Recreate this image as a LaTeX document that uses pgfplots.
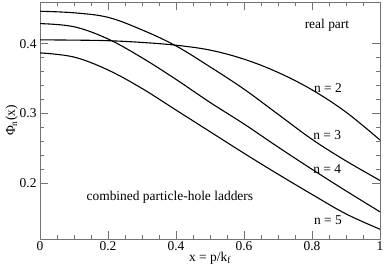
\documentclass[border=0pt]{standalone}
\usepackage{pgfplots}
\pgfplotsset{compat=1.18}
\usepackage{fontspec}
\setmainfont{Liberation Serif}
\tikzset{curve/.style={black, line width=1.1pt, smooth, tension=0.6, mark=none}}
\begin{document}
\begin{tikzpicture}
\begin{axis}[
  scale only axis,
  width=340bp, height=237bp,
  xmin=0, xmax=1, ymin=0.12, ymax=0.46,
  xtick={0,0.2,0.4,0.6,0.8,1},
  xticklabels={0,0.2,0.4,0.6,0.8,1},
  ytick={0.2,0.3,0.4},
  yticklabels={0.2,0.3,0.4},
  minor x tick num=3,
  minor y tick num=4,
  tick align=inside,
  major tick length=8bp,
  minor tick length=4bp,
  axis line style={draw=black!55, line width=1pt},
  every tick/.style={draw=black!55, line width=0.8pt},
  tick label style={font=\fontsize{13.5}{13.5}\selectfont},
  label style={font=\fontsize{13.5}{13.5}\selectfont},
  xlabel={x = p/k\textsubscript{f}},
  ylabel={Φ\textsubscript{n}(x)},
  xlabel style={yshift=5bp},
  ylabel style={yshift=-5bp},
  xticklabel style={yshift=1bp},
  /pgf/number format/assume math mode=true,
]
\addplot[curve] coordinates {(0,0.4057)(0.1,0.4053)(0.2,0.4045)(0.3,0.402)(0.4,0.398)(0.5,0.391)(0.6,0.378)(0.7,0.359)(0.8,0.334)(0.9,0.302)(1.0,0.262)};
\addplot[curve] coordinates {(0,0.4467)(0.1,0.4445)(0.2,0.438)(0.3,0.420)(0.4,0.397)(0.5,0.367)(0.6,0.335)(0.7,0.299)(0.8,0.263)(0.9,0.232)(1.0,0.204)};
\addplot[curve] coordinates {(0,0.429)(0.1,0.4245)(0.2,0.407)(0.3,0.380)(0.4,0.349)(0.5,0.316)(0.6,0.285)(0.7,0.252)(0.8,0.220)(0.9,0.189)(1.0,0.159)};
\addplot[curve] coordinates {(0,0.387)(0.1,0.381)(0.2,0.3625)(0.3,0.336)(0.4,0.305)(0.5,0.274)(0.6,0.243)(0.7,0.213)(0.8,0.184)(0.9,0.156)(1.0,0.134)};
\node[font=\fontsize{13.5}{13.5}\selectfont] at (axis cs:0.844,0.427) {real part};
\node[font=\fontsize{13.5}{13.5}\selectfont] at (axis cs:0.847,0.337) {n = 2};
\node[font=\fontsize{13.5}{13.5}\selectfont] at (axis cs:0.845,0.269) {n = 3};
\node[font=\fontsize{13.5}{13.5}\selectfont] at (axis cs:0.845,0.221) {n = 4};
\node[font=\fontsize{13.5}{13.5}\selectfont] at (axis cs:0.847,0.147) {n = 5};
\node[font=\fontsize{13.5}{13.5}\selectfont] at (axis cs:0.382,0.180) {combined particle-hole ladders};
\coordinate (sw) at (rel axis cs:0,0);
\coordinate (ne) at (rel axis cs:1,1);
\end{axis}
\pgfresetboundingbox
\path (sw) ++(-40bp,-33bp) coordinate (a);
\path (ne) ++(4bp,2bp) coordinate (b);
\path[use as bounding box] (a) rectangle (b);
\end{tikzpicture}
\end{document}
